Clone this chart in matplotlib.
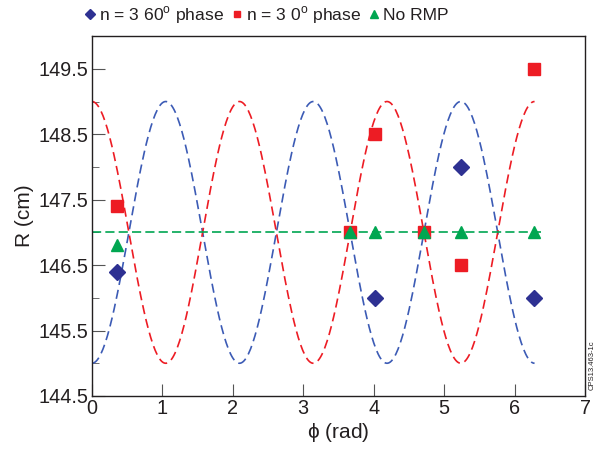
import numpy as np
import matplotlib.pyplot as plt
from matplotlib.ticker import MultipleLocator

plt.rcParams['font.family'] = ['Liberation Sans', 'DejaVu Sans']
plt.rcParams['mathtext.fontset'] = 'custom'
plt.rcParams['mathtext.rm'] = 'Liberation Sans'

# measured points
phi_60 = [0.35, 4.02, 5.24, 6.28]
R_60 = [146.4, 146.0, 148.0, 146.0]

phi_0 = [0.36, 3.67, 4.02, 4.71, 5.24, 6.28]
R_0 = [147.4, 147.0, 148.5, 147.0, 146.5, 149.5]

phi_none = [0.35, 3.67, 4.02, 4.71, 5.24, 6.28]
R_none = [146.8, 147.0, 147.0, 147.0, 147.0, 147.0]

# model curves (n = 3 modulation)
R0 = 147.0
amp = 2.0
n_mode = 3
phase_60 = np.pi
phase_0 = 0.0

phi = np.linspace(0, 2 * np.pi, 400)

blue_pt = '#2e3192'
blue_ln = '#3c5bb5'
red = '#ed1c24'
green = '#00a651'

fig = plt.figure(figsize=(5.97, 4.51), dpi=100)
ax = fig.add_axes([0.154, 0.122, 0.826, 0.798])

ax.plot(phi, R0 + amp * np.cos(n_mode * phi + phase_60), color=blue_ln,
        lw=1.2, linestyle=(0, (5.5, 3)))
ax.plot(phi, R0 + amp * np.cos(n_mode * phi + phase_0), color=red,
        lw=1.2, linestyle=(0, (5.5, 3)))
ax.plot([0, 6.38], [R0, R0], color=green, lw=1.2, linestyle=(0, (5.5, 2.5)))

ax.plot(phi_60, R_60, 'D', color=blue_pt, ms=8.5, ls='none',
        label=r'n = 3 60$^\mathrm{o}$ phase')
ax.plot(phi_0, R_0, 's', color=red, ms=8, ls='none',
        label=r'n = 3 0$^\mathrm{o}$ phase')
ax.plot(phi_none, R_none, '^', color=green, ms=8.5, ls='none',
        label='No RMP')

ax.set_xlim(0, 7)
ax.set_ylim(144.5, 150.0)
ax.set_xticks(range(8))
ax.set_yticks([144.5, 145.5, 146.5, 147.5, 148.5, 149.5])
ax.yaxis.set_minor_locator(MultipleLocator(0.5))
ax.tick_params(direction='in', length=9, color='#555555', labelsize=14.3,
               labelcolor='#231f20', pad=2.5)
ax.tick_params(axis='y', which='minor', direction='in', length=5, color='#555555')
ax.set_xlabel(r'$\mathrm{\phi}$ (rad)', fontsize=15, color='#231f20', labelpad=2)
ax.set_ylabel('R (cm)', fontsize=15, color='#231f20', labelpad=3)
for s in ax.spines.values():
    s.set_color('#231f20')
    s.set_linewidth(1.0)

fig.legend(loc='center', bbox_to_anchor=(0.447, 0.966), ncol=3, frameon=False,
           fontsize=12.6, markerscale=0.6, handlelength=0.6, handletextpad=0.2,
           columnspacing=0.45, labelcolor='#231f20')

fig.text(0.992, 0.135, 'CPS13.463-1c', rotation=90, fontsize=5.5,
         ha='center', va='bottom', color='#231f20')

fig.savefig('out.png', dpi=100)
